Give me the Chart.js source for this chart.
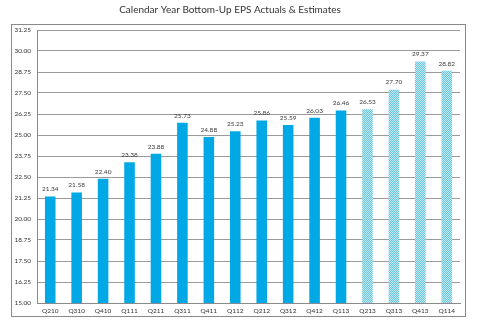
<!DOCTYPE html>
<html>
<head>
<meta charset="utf-8">
<script src="https://cdn.jsdelivr.net/npm/chart.js@4/dist/chart.umd.min.js"></script>
<style>
  html, body { margin: 0; padding: 0; background: #fff; }
  #wrap { position: relative; width: 479px; height: 326px; }
  #frame { position: absolute; left: 11px; top: 24px; width: 455px; height: 293px; border: 1px solid #8a8a8a; box-sizing: border-box; pointer-events: none; }
  canvas { position: absolute; left: 0; top: 0; }
</style>
</head>
<body>
<div id="wrap">
  <canvas id="c" width="479" height="326"></canvas>
  <div id="frame"></div>
</div>
<script>
const categories = ["Q210","Q310","Q410","Q111","Q211","Q311","Q411","Q112","Q212","Q312","Q412","Q113","Q213","Q313","Q413","Q114"];
const epsValues = [21.34, 21.58, 22.40, 23.38, 23.88, 25.73, 24.88, 25.23, 25.86, 25.59, 26.03, 26.46, 26.53, 27.70, 29.37, 28.82];
const isEstimate = [false,false,false,false,false,false,false,false,false,false,false,false,true,true,true,true];
const yMin = 15.00, yMax = 31.25, yStep = 1.25;
const titleText = "Calendar Year Bottom-Up EPS Actuals & Estimates";

function makePattern() {
  const p = document.createElement('canvas');
  p.width = 2; p.height = 2;
  const g = p.getContext('2d');
  g.fillStyle = '#6cc6de'; g.fillRect(0,0,2,2);
  g.fillStyle = '#c0e7f1'; g.fillRect(0,0,1,1); g.fillRect(1,1,1,1);
  return document.getElementById('c').getContext('2d').createPattern(p, 'repeat');
}
const pattern = makePattern();
const actualColor = '#00A8E6';

const valueLabels = {
  id: 'valueLabels',
  afterDatasetsDraw(chart) {
    const ctx = chart.ctx;
    const meta = chart.getDatasetMeta(0);
    ctx.save();
    ctx.font = '6.5px Lato, "Liberation Sans", sans-serif';
    ctx.fillStyle = '#3a3a3a';
    ctx.textAlign = 'center';
    ctx.textBaseline = 'bottom';
    meta.data.forEach((bar, i) => {
      ctx.fillText(epsValues[i].toFixed(2), bar.x, bar.y - 4);
    });
    ctx.restore();
  }
};

new Chart(document.getElementById('c'), {
  type: 'bar',
  data: {
    labels: categories,
    datasets: [{
      data: epsValues,
      backgroundColor: isEstimate.map(e => e ? pattern : actualColor),
      borderWidth: 0,
      barPercentage: 0.4,
      categoryPercentage: 1.0
    }]
  },
  options: {
    responsive: false,
    animation: false,
    devicePixelRatio: 1,
    layout: { padding: { left: 0, right: 19, top: 0, bottom: 0 } },
    plugins: {
      legend: { display: false },
      tooltip: { enabled: false },
      title: {
        display: true,
        text: titleText,
        color: '#333',
        font: { family: 'Lato, "Open Sans", sans-serif', size: 10, weight: 'normal', lineHeight: 1.2 },
        padding: { top: 4, bottom: 14 }
      }
    },
    scales: {
      x: {
        grid: { display: false, drawTicks: false },
        border: { display: true, color: '#8a8a8a', width: 1 },
        ticks: { color: '#333', font: { family: 'Lato, "Liberation Sans", sans-serif', size: 6.5 }, padding: 4, maxRotation: 0, autoSkip: false },
        afterFit(scale) { scale.height = 23; }
      },
      y: {
        min: yMin, max: yMax,
        grid: { color: '#9a9a9a', lineWidth: 1, drawTicks: false },
        border: { display: true, color: '#8a8a8a', width: 1 },
        ticks: {
          stepSize: yStep, color: '#333', padding: 6,
          font: { family: 'Lato, "Liberation Sans", sans-serif', size: 6.5 },
          callback: v => Number(v).toFixed(2)
        },
        afterFit(scale) { scale.width = 37; }
      }
    }
  },
  plugins: [valueLabels]
});
</script>
</body>
</html>
